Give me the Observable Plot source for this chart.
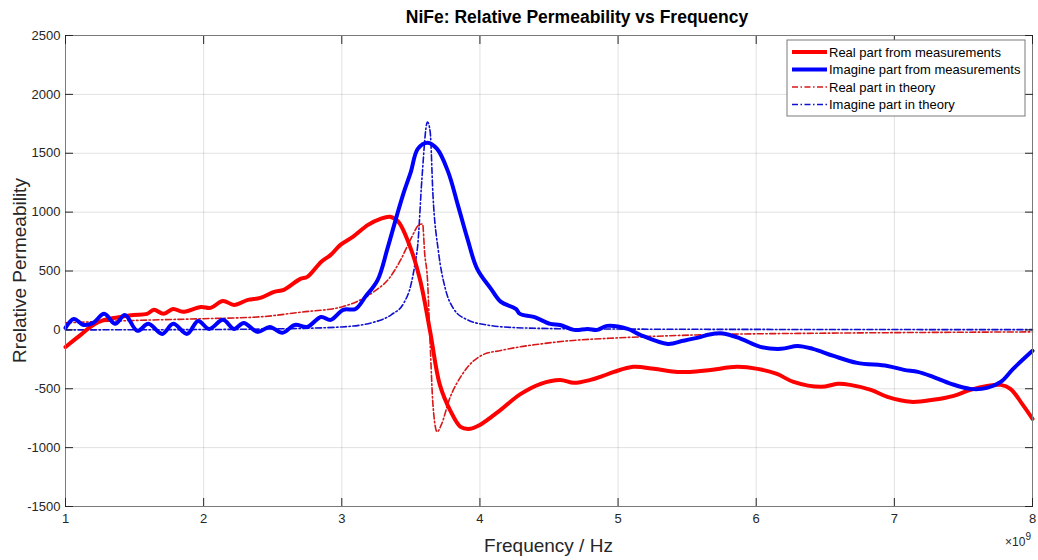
<!DOCTYPE html>
<html>
<head>
<meta charset="utf-8">
<script src="https://cdn.jsdelivr.net/npm/d3@7"></script>
<script src="https://cdn.jsdelivr.net/npm/@observablehq/plot@0.6"></script>
<style>
  html, body { margin: 0; padding: 0; background: #fff; }
  body { width: 1038px; height: 560px; overflow: hidden; font-family: "Liberation Sans", Arial, sans-serif; }
  #title { height: 28px; line-height: 34px; font-weight: bold; font-size: 17.5px; color: #000;
           text-align: center; padding-left: 116px; box-sizing: border-box; width: 1038px; white-space: nowrap; }
</style>
</head>
<body>
<div id="title">NiFe: Relative Permeability vs Frequency</div>
<div id="chart"></div>
<script>
// ---- data (frequency in units of 1e9 Hz) ----
const realMeasF = [1.00,1.11,1.20,1.28,1.40,1.49,1.59,1.64,1.71,1.78,1.85,1.98,2.05,2.14,2.22,2.32,2.41,2.51,2.58,2.70,2.75,2.85,2.92,2.99,3.08,3.19,3.28,3.35,3.41,3.50,3.57,3.64,3.71,3.79,3.86,3.93,4.00,4.15,4.29,4.44,4.58,4.68,4.80,4.89,4.97,5.11,5.26,5.43,5.52,5.67,5.86,6.01,6.15,6.27,6.47,6.59,6.68,6.83,6.95,7.12,7.28,7.43,7.55,7.67,7.77,7.84,7.93,8.00];
const realMeasV = [-145,-42,42,85,110,127,136,170,136,178,153,195,187,246,212,255,272,323,340,433,450,577,637,722,790,892,943,960,917,688,408,-17,-467,-696,-824,-840,-807,-679,-548,-458,-425,-450,-425,-391,-357,-314,-331,-357,-357,-340,-314,-331,-374,-442,-484,-458,-467,-510,-569,-611,-594,-560,-510,-476,-467,-501,-637,-756];

const imagMeasF = [1.00,1.06,1.13,1.20,1.28,1.36,1.43,1.52,1.60,1.70,1.78,1.88,1.96,2.04,2.14,2.22,2.29,2.39,2.48,2.57,2.66,2.75,2.85,2.92,3.01,3.10,3.17,3.26,3.33,3.40,3.45,3.50,3.55,3.62,3.69,3.77,3.84,3.91,3.98,4.08,4.15,4.26,4.29,4.39,4.51,4.58,4.68,4.78,4.85,4.92,5.07,5.16,5.36,5.47,5.60,5.65,5.76,5.89,6.03,6.18,6.30,6.41,6.56,6.73,6.95,7.07,7.17,7.28,7.41,7.55,7.67,7.77,7.86,8.00];
const imagMeasV = [17,93,42,59,136,51,127,-8,51,-34,51,-34,76,8,85,8,59,-17,25,-25,42,25,110,85,170,178,280,425,688,977,1172,1342,1537,1590,1537,1342,1062,773,518,348,240,178,136,110,51,42,0,8,0,34,8,-42,-119,-93,-59,-42,-30,-76,-144,-161,-136,-161,-221,-280,-306,-340,-357,-399,-458,-501,-493,-442,-331,-178];

const realTheoF = [1.0,1.5,2.0,2.4,2.7,3.0,3.12,3.24,3.34,3.43,3.50,3.56,3.585,3.60,3.62,3.64,3.66,3.69,3.72,3.78,3.87,4.02,4.15,4.29,4.39,4.64,5.0,5.6,6.5,7.2,8.0];
const realTheoV = [60,80,95,110,150,195,246,331,433,603,773,892,900,650,433,-127,-637,-866,-807,-586,-382,-212,-175,-144,-127,-93,-68,-42,-28,-22,-17];

const imagTheoF = [1.0,2.0,2.5,3.0,3.24,3.36,3.45,3.50,3.53,3.55,3.58,3.62,3.64,3.66,3.70,3.75,3.81,3.91,4.05,4.24,4.6,5.5,8.0];
const imagTheoV = [0,3,8,25,68,130,230,380,560,722,1282,1766,1681,1146,662,348,178,85,42,20,10,5,2];

const xTicks = [1,2,3,4,5,6,7,8];
const yTicks = [-1500,-1000,-500,0,500,1000,1500,2000,2500];

const seriesNames = ["Real part from measurements","Imagine part from measurements","Real part in theory","Imagine part in theory"];
const seriesColors = ["#ff0000","#0000ff","#d81818","#1010d0"];
const seriesWidths = [4,4,1.6,1.6];
const seriesDash = [null,null,"6,2.5,1.5,2.5","6,2.5,1.5,2.5"];

const zip = (fs, vs) => fs.map((f,i) => ({f, v: vs[i]}));
const realMeas = zip(realMeasF, realMeasV);
const imagMeas = zip(imagMeasF, imagMeasV);
const realTheo = zip(realTheoF, realTheoV);
const imagTheo = zip(imagTheoF, imagTheoV);

const FONT = "Liberation Sans, Arial, sans-serif";
const tickColor = "#262626";
const noLabel = () => "";

const chart = Plot.plot({
  width: 1038,
  height: 532,
  marginTop: 7,
  marginLeft: 65,
  marginRight: 6,
  marginBottom: 54,
  style: {fontFamily: FONT, background: "#fff", overflow: "visible"},
  x: {domain: [1, 8], ticks: xTicks},
  y: {domain: [-1500, 2500], ticks: yTicks},
  marks: [
    Plot.gridX(xTicks, {stroke: "#000", strokeOpacity: 0.12}),
    Plot.gridY(yTicks, {stroke: "#000", strokeOpacity: 0.12}),
    Plot.line(imagTheo, {x: "f", y: "v", stroke: seriesColors[3], strokeWidth: seriesWidths[3], strokeDasharray: seriesDash[3], curve: "monotone-x"}),
    Plot.line(realTheo, {x: "f", y: "v", stroke: seriesColors[2], strokeWidth: seriesWidths[2], strokeDasharray: seriesDash[2], curve: "monotone-x"}),
    Plot.line(realMeas, {x: "f", y: "v", stroke: seriesColors[0], strokeWidth: seriesWidths[0], curve: "catmull-rom", strokeLinejoin: "round"}),
    Plot.line(imagMeas, {x: "f", y: "v", stroke: seriesColors[1], strokeWidth: seriesWidths[1], curve: "catmull-rom", strokeLinejoin: "round"}),
    Plot.frame({stroke: "#7a7a7a", strokeWidth: 1}),
    // inward ticks (no labels)
    Plot.axisX(xTicks, {anchor: "bottom", tickSize: 8, dy: -8, tickFormat: noLabel, label: null, stroke: tickColor}),
    Plot.axisX(xTicks, {anchor: "top", tickSize: 8, dy: 8, tickFormat: noLabel, label: null, stroke: tickColor}),
    Plot.axisY(yTicks, {anchor: "left", tickSize: 8, dx: 8, tickFormat: noLabel, label: null, stroke: tickColor}),
    Plot.axisY(yTicks, {anchor: "right", tickSize: 8, dx: -8, tickFormat: noLabel, label: null, stroke: tickColor}),
    // tick labels
    Plot.axisX(xTicks, {anchor: "bottom", tickSize: 0, tickPadding: 7, label: null, fontSize: 13, fill: tickColor, tickFormat: d => String(d)}),
    Plot.axisY(yTicks, {anchor: "left", tickSize: 0, tickPadding: 5, label: null, fontSize: 13, fill: tickColor, tickFormat: d => String(d)})
  ]
});
document.getElementById("chart").appendChild(chart);

// axis labels and legend
const svg = d3.select(chart);
const xs = chart.scale("x"), ys = chart.scale("y");
const xMid = (xs.range[0] + xs.range[1]) / 2;
const yMid = (ys.range[0] + ys.range[1]) / 2;

svg.append("text").attr("x", xMid).attr("y", 524).attr("text-anchor", "middle")
  .attr("font-size", 19).attr("fill", tickColor).attr("font-family", FONT).text("Frequency / Hz");
svg.append("text").attr("transform", `translate(26,${yMid}) rotate(-90)`).attr("text-anchor", "middle")
  .attr("font-size", 19).attr("fill", tickColor).attr("font-family", FONT).text("Rrelative Permeability");
const sci = svg.append("text").attr("x", 1031).attr("y", 518).attr("text-anchor", "end")
  .attr("font-size", 12).attr("fill", tickColor).attr("font-family", FONT);
sci.append("tspan").text("\u00d710");
sci.append("tspan").attr("dy", -6).attr("font-size", 10).text("9");

const lg = svg.append("g").attr("transform", "translate(787,12)");
lg.append("rect").attr("x", 0).attr("y", 0).attr("width", 238).attr("height", 76)
  .attr("fill", "#fff").attr("stroke", "#7a7a7a").attr("stroke-width", 1);
seriesNames.forEach((name, i) => {
  const yy = 12 + i * 17.5;
  lg.append("line").attr("x1", 5).attr("x2", 40).attr("y1", yy).attr("y2", yy)
    .attr("stroke", seriesColors[i]).attr("stroke-width", seriesWidths[i])
    .attr("stroke-dasharray", seriesDash[i]);
  lg.append("text").attr("x", 42).attr("y", yy).attr("dy", "0.35em").attr("text-anchor", "start")
    .attr("font-size", 13).attr("font-family", FONT).attr("fill", "#000").text(name);
});
</script>
</body>
</html>
